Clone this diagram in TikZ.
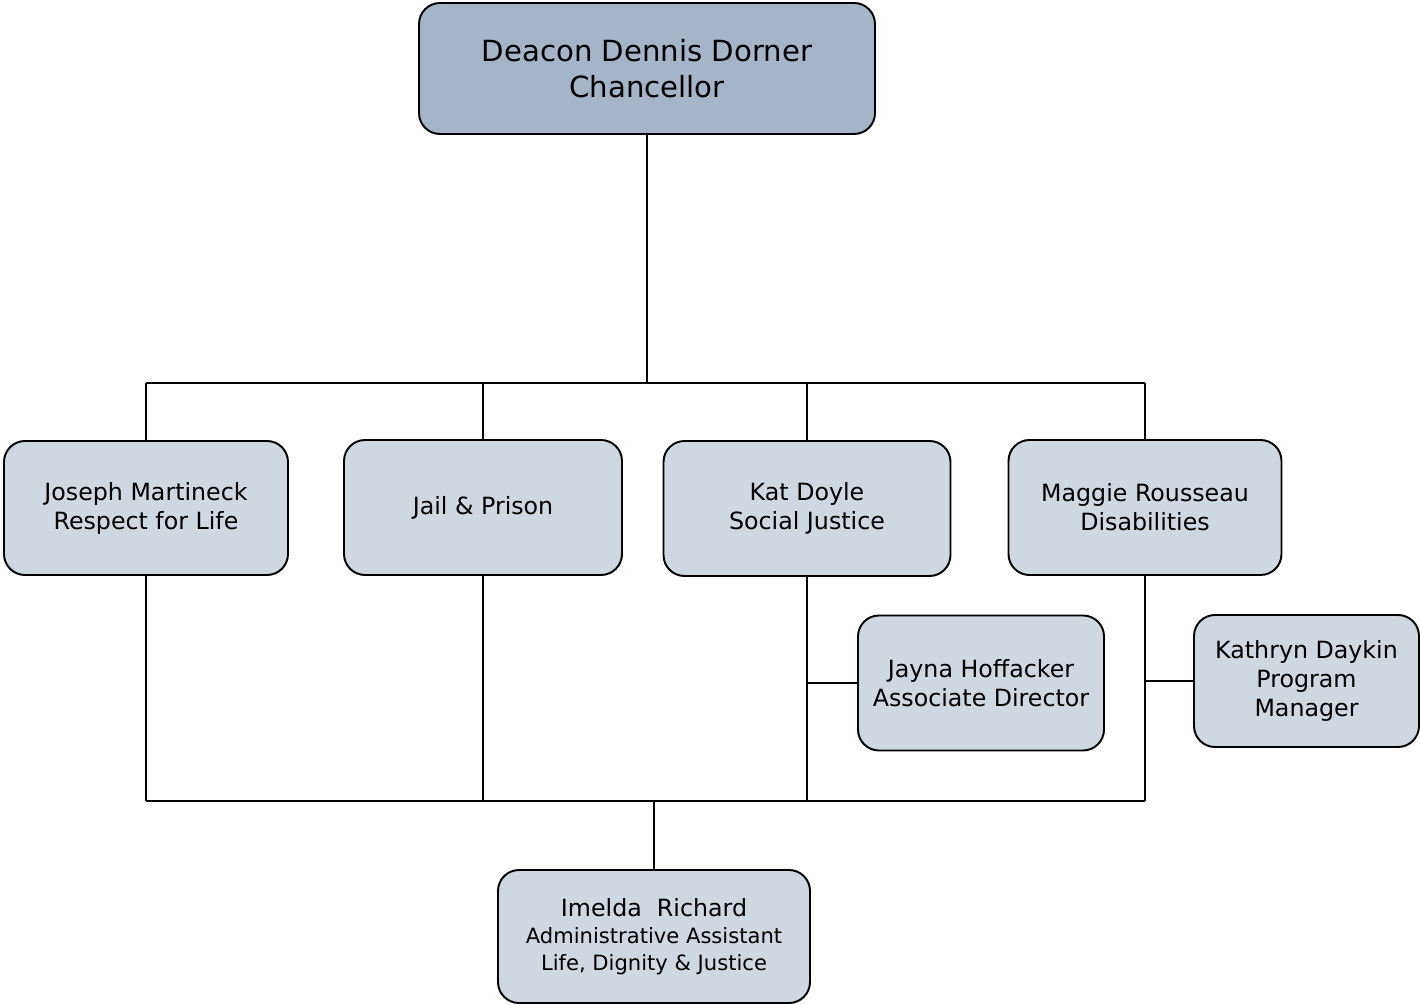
\documentclass[tikz,border=0pt]{standalone}
\usepackage{fontspec}
\setmainfont{DejaVu Sans}
\definecolor{headfill}{HTML}{A6B4C8}
\definecolor{stafffill}{HTML}{CFD7E1}
\begin{document}
\begin{tikzpicture}[line width=1.1pt]
      \tikzset{staffbox/.style={draw, rounded corners=0.42cm, fill=stafffill, align=center, inner sep=0pt, font=\fontsize{13.5}{16.5}\selectfont},
               headbox/.style={staffbox, fill=headfill, font=\fontsize{16.6}{20.5}\selectfont}}
      \useasboundingbox (0,0) rectangle (28.4,-20.1);
%% Boxes
      	\node[headbox, minimum width=9.12cm, minimum height=2.62cm] (chancellor) at (12.94,-1.37) {Deacon Dennis Dorner\\Chancellor};
      	\node[staffbox, minimum width=5.68cm, minimum height=2.68cm] (martineck) at (2.92,-10.16) {Joseph Martineck\\Respect for Life};
      	\node[staffbox, minimum width=5.56cm, minimum height=2.7cm] (jail) at (9.66,-10.15) {Jail \& Prison};
      	\node[staffbox, minimum width=5.74cm, minimum height=2.7cm] (doyle) at (16.14,-10.17) {Kat Doyle\\Social Justice};
      	\node[staffbox, minimum width=5.46cm, minimum height=2.7cm] (rousseau) at (22.9,-10.15) {Maggie Rousseau\\Disabilities};
      	\node[staffbox, minimum width=4.92cm, minimum height=2.7cm] (hoffacker) at (19.62,-13.66) {Jayna Hoffacker\\Associate Director};
      	\node[staffbox, minimum width=4.5cm, minimum height=2.64cm] (daykin) at (26.13,-13.62) {Kathryn Daykin\\Program\\Manager};
      	\node[staffbox, minimum width=6.24cm, minimum height=2.66cm] (richard) at (13.08,-18.73) {Imelda\ \ Richard\\[-1pt]{\fontsize{12}{14.8}\selectfont Administrative Assistant}\\[-1pt]{\fontsize{12}{14.8}\selectfont Life, Dignity \& Justice}};
%% Buses
      	\coordinate (topbus) at (2.92,-7.66);
      	\coordinate (topbusend) at (22.9,-7.66);
      	\coordinate (lowbus) at (2.92,-16.02);
      	\coordinate (lowbusend) at (22.9,-16.02);
%Lines
		\draw (chancellor.south) -- (chancellor.south |- topbus);
		\draw (topbus) -- (topbusend);
		\draw (martineck.north) -- (martineck.north |- topbus);
		\draw (jail.north) -- (jail.north |- topbus);
		\draw (doyle.north) -- (doyle.north |- topbus);
		\draw (rousseau.north) -- (rousseau.north |- topbus);
		\draw (martineck.south) -- (martineck.south |- lowbus);
		\draw (jail.south) -- (jail.south |- lowbus);
		\draw (doyle.south) -- (doyle.south |- lowbus);
		\draw (rousseau.south) -- (rousseau.south |- lowbus);
		\draw (lowbus) -- (lowbusend);
		\draw (hoffacker.west) -- (hoffacker.west -| doyle.south);
		\draw (daykin.west) -- (daykin.west -| rousseau.south);
		\draw (richard.north) -- (richard.north |- lowbus);
	\end{tikzpicture}
\end{document}
